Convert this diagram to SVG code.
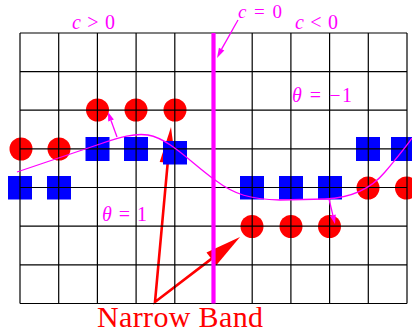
<svg xmlns="http://www.w3.org/2000/svg" width="412" height="336" viewBox="0 0 412 336">
<style>
.grid line{stroke:#000;stroke-width:1.2}
.dot{fill:#f00}
.sq{fill:#00f}
.lbl{font-family:"Liberation Serif",serif;font-size:20px;fill:#f0f}
.lbl .i{font-style:italic}
.red{stroke:#f00;stroke-width:2.6;fill:none}
.mag{stroke:#f0f;stroke-width:1.3;fill:none}
</style>
<rect width="412" height="336" fill="#fff"/>
<g id="connectors-red">
<polyline class="red" points="167.7,162.9 155,302 211.4,258.9"/>
<polygon fill="#f00" points="171,127 175.7,163.6 159.7,162.1"/>
<polygon fill="#f00" points="240,237 216.3,265.3 206.5,252.5"/>
</g>
<g id="circles">
<g id="c1"><circle class="dot" cx="97.5" cy="110" r="11.5"/></g>
<g id="c2"><circle class="dot" cx="136" cy="110" r="11.5"/></g>
<g id="c3"><circle class="dot" cx="175" cy="110" r="11.5"/></g>
<g id="c4"><circle class="dot" cx="21" cy="149" r="11.5"/></g>
<g id="c5"><circle class="dot" cx="59" cy="149" r="11.5"/></g>
<g id="c6"><circle class="dot" cx="368" cy="188" r="11.5"/></g>
<g id="c7"><circle class="dot" cx="406.5" cy="188" r="11.5"/></g>
<g id="c8"><circle class="dot" cx="252" cy="226.5" r="11.5"/></g>
<g id="c9"><circle class="dot" cx="291" cy="226.5" r="11.5"/></g>
<g id="c10"><circle class="dot" cx="329.5" cy="226.5" r="11.5"/></g>
</g>
<g id="squares">
<g id="s1"><rect class="sq" x="85.5" y="137" width="24" height="24"/></g>
<g id="s2"><rect class="sq" x="124" y="137" width="24" height="24"/></g>
<g id="s3"><rect class="sq" x="163" y="141" width="24" height="23.5"/></g>
<g id="s4"><rect class="sq" x="8" y="176" width="24" height="23.5"/></g>
<g id="s5"><rect class="sq" x="47" y="176" width="24" height="23.5"/></g>
<g id="s6"><rect class="sq" x="240" y="176" width="24" height="23.5"/></g>
<g id="s7"><rect class="sq" x="279" y="176" width="24" height="23.5"/></g>
<g id="s8"><rect class="sq" x="318" y="176" width="24" height="23.5"/></g>
<g id="s9"><rect class="sq" x="356" y="137" width="24" height="24"/></g>
<g id="s10"><rect class="sq" x="391" y="137" width="24" height="24"/></g>
</g>
<g class="grid" id="grid">
<line x1="20" y1="33" x2="20" y2="303.5"/>
<line x1="58.7" y1="33" x2="58.7" y2="303.5"/>
<line x1="97.4" y1="33" x2="97.4" y2="303.5"/>
<line x1="136.1" y1="33" x2="136.1" y2="303.5"/>
<line x1="174.8" y1="33" x2="174.8" y2="303.5"/>
<line x1="213.5" y1="33" x2="213.5" y2="303.5"/>
<line x1="252.2" y1="33" x2="252.2" y2="303.5"/>
<line x1="290.9" y1="33" x2="290.9" y2="303.5"/>
<line x1="329.6" y1="33" x2="329.6" y2="303.5"/>
<line x1="368.3" y1="33" x2="368.3" y2="303.5"/>
<line x1="407" y1="33" x2="407" y2="303.5"/>
<line x1="20" y1="33" x2="407" y2="33"/>
<line x1="20" y1="71.6" x2="407" y2="71.6"/>
<line x1="20" y1="110.2" x2="407" y2="110.2"/>
<line x1="20" y1="148.8" x2="407" y2="148.8"/>
<line x1="20" y1="187.5" x2="407" y2="187.5"/>
<line x1="20" y1="226.2" x2="407" y2="226.2"/>
<line x1="20" y1="264.8" x2="407" y2="264.8"/>
<line x1="20" y1="303.5" x2="407" y2="303.5"/>
</g>
<g id="front">
<line x1="213.5" y1="33" x2="213.5" y2="303.5" stroke="#f0f" stroke-width="4.2"/>
<path class="mag" d="M17,172 L100,144 C120,137 135,133 148,135 C170,139 190,162 215,180 C235,195 250,199 280,200 L325,199 C350,198 370,190 385,172 C395,160 405,148 412,138"/>
</g>
<g id="connectors-mag">
<line class="mag" x1="238" y1="20" x2="221.6" y2="49.1"/>
<polygon fill="#f0f" points="217,58 224.3,50.5 218.9,47.7"/>
<line class="mag" x1="117" y1="137" x2="111" y2="120.5"/>
<polygon fill="#f0f" points="108,112 113.9,119.45 108.2,121.5"/>
<line class="mag" x1="329" y1="199" x2="332.9" y2="215.3"/>
<polygon fill="#f0f" points="335,224 335.8,214.55 330,215.95"/>
</g>
<g id="labels">
<text class="lbl" x="72" y="29" textLength="43"><tspan class="i">c</tspan> &gt; 0</text>
<text class="lbl" x="238" y="17.5" font-size="19" style="font-size:19px" textLength="44"><tspan class="i">c</tspan> = 0</text>
<text class="lbl" x="295" y="29" textLength="43"><tspan class="i">c</tspan> &lt; 0</text>
<text class="lbl" x="292" y="102" textLength="60"><tspan class="i">θ</tspan> = −1</text>
<text class="lbl" x="102" y="221" textLength="45"><tspan class="i">θ</tspan> = 1</text>
<text x="97" y="327" font-family="Liberation Serif,serif" font-size="30" fill="#f00" textLength="166">Narrow Band</text>
</g>
</svg>
